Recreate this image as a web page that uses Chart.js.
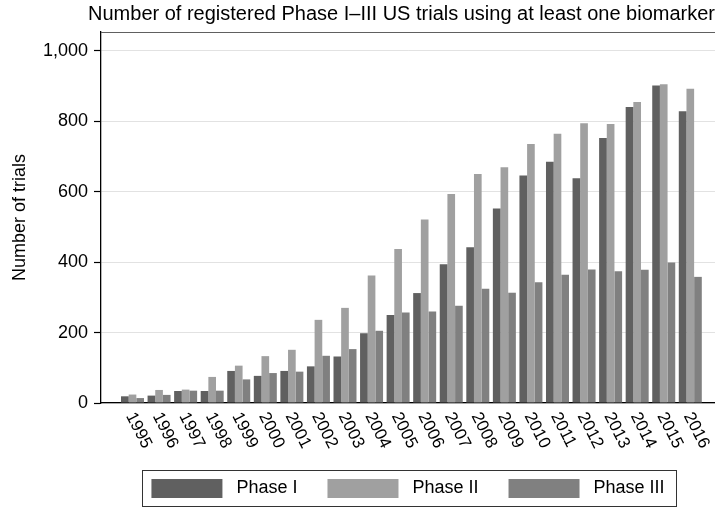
<!DOCTYPE html>
<html>
<head>
<meta charset="utf-8">
<title>Biomarker trials</title>
<script src="https://cdn.jsdelivr.net/npm/chart.js@4.4.1/dist/chart.umd.min.js"></script>
<style>
  html, body { margin: 0; padding: 0; background: #fff; }
  #wrap { width: 715px; height: 508px; position: relative; }
</style>
</head>
<body>
<div id="wrap"><canvas id="trialsChart"></canvas></div>
<script>
// Data
const years = [1995, 1996, 1997, 1998, 1999, 2000, 2001, 2002, 2003, 2004, 2005,
  2006, 2007, 2008, 2009, 2010, 2011, 2012, 2013, 2014, 2015, 2016]
const phase1 = [19, 21, 34, 34, 91, 77, 91, 104, 132, 198, 250, 312, 394, 442, 552, 646, 685, 638, 752, 840, 901, 828]
const phase2 = [24, 37, 38, 74, 106, 133, 151, 236, 270, 362, 437, 521, 593, 650, 669, 735, 764, 794, 792, 854, 905, 892]
const phase3 = [14, 23, 35, 35, 67, 85, 89, 134, 153, 205, 257, 260, 276, 324, 313, 343, 364, 379, 374, 378, 399, 358]
const seriesNames = ["Phase I", "Phase II", "Phase III"]
const yTicks = [0, 200, 400, 600, 800, 1000]

const FONT = '"Liberation Sans", Arial, Helvetica, sans-serif'
Chart.defaults.font.family = FONT
Chart.defaults.color = "#000"

// Extra drawing: plot region top line, slanted year labels, legend frame
const extrasPlugin = {
  id: "extras",
  afterDraw(chart) {
    const { ctx, chartArea } = chart
    const x = chart.scales.x
    ctx.save()

    ctx.strokeStyle = "#606060"
    ctx.lineWidth = 1.2
    ctx.beginPath()
    ctx.moveTo(chartArea.left, Math.round(chartArea.top) + 0.5)
    ctx.lineTo(chartArea.right, Math.round(chartArea.top) + 0.5)
    ctx.stroke()

    // year labels run down to the right, like the original
    ctx.fillStyle = "#000"
    ctx.font = "17px " + FONT
    ctx.textAlign = "left"
    ctx.textBaseline = "middle"
    years.forEach((yr) => {
      ctx.save()
      ctx.translate(x.getPixelForValue(yr) - 2.5, chartArea.bottom + 10.5)
      ctx.rotate((63 * Math.PI) / 180)
      ctx.fillText(String(yr), 0, 0)
      ctx.restore()
    })

    const hb = chart.legend.legendHitBoxes
    if (hb && hb.length) {
      const first = hb[0]
      const last = hb[hb.length - 1]
      const left = Math.round(first.left - 9) + 0.5
      const top = Math.round(first.top - 9) + 0.5
      const right = Math.round(last.left + last.width + 11) + 0.5
      const bottom = Math.round(first.top + first.height + 8) + 0.5
      ctx.strokeStyle = "#333"
      ctx.lineWidth = 1
      ctx.strokeRect(left, top, right - left, bottom - top)
    }
    ctx.restore()
  },
}

const colors = ["#606060", "#a0a0a0", "#808080"]
const values = [phase1, phase2, phase3]

new Chart(document.getElementById("trialsChart"), {
  type: "bar",
  data: {
    labels: years,
    datasets: seriesNames.map((name, i) => ({
      label: name,
      data: values[i],
      backgroundColor: colors[i],
      borderWidth: 0,
      barPercentage: 1,
      categoryPercentage: 0.866,
    })),
  },
  options: {
    responsive: true,
    maintainAspectRatio: false,
    animation: false,
    layout: { padding: 0 },
    plugins: {
      tooltip: { enabled: false },
      title: {
        display: true,
        text: "Number of registered Phase I\u2013III US trials using at least one biomarker",
        align: "end",
        color: "#000",
        font: { size: 20, weight: "normal" },
        padding: { top: 2, bottom: 6 },
      },
      legend: {
        position: "bottom",
        fullSize: false,
        labels: {
          boxWidth: 71,
          boxHeight: 19,
          padding: 30,
          color: "#000",
          font: { size: 18 },
          generateLabels: (chart) =>
            Chart.defaults.plugins.legend.labels.generateLabels(chart).map((l) => ({
              ...l,
              text: " " + l.text,
              lineWidth: 0,
            })),
        },
      },
    },
    scales: {
      x: {
        type: "linear",
        offset: false,
        min: 1993.814,
        max: 2016.93,
        afterBuildTicks: (s) => {
          s.ticks = years.map((v) => ({ value: v }))
        },
        afterFit: (s) => {
          s.height = 46
        },
        ticks: { display: false },
        grid: { display: false },
        border: { color: "#000", width: 1.3 },
      },
      y: {
        min: 0,
        max: 1053,
        afterBuildTicks: (s) => {
          s.ticks = yTicks.map((v) => ({ value: v }))
        },
        afterFit: (s) => {
          s.width = 101
        },
        ticks: {
          color: "#000",
          font: { size: 18 },
          padding: 6,
          callback: (v) => v.toLocaleString("en-US"),
        },
        grid: {
          color: "#e2e2e2",
          lineWidth: 1,
          tickLength: 7,
          tickColor: "#000",
          tickWidth: 1.2,
        },
        border: { color: "#000", width: 1.3 },
        title: {
          display: true,
          text: "Number of trials",
          color: "#000",
          font: { size: 18 },
          padding: { top: 9, bottom: 0 },
        },
      },
    },
  },
  plugins: [extrasPlugin],
})
</script>
</body>
</html>
